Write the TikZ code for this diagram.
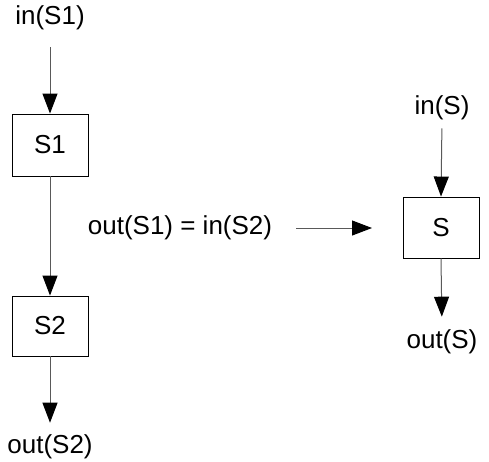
\documentclass[tikz,border=0pt]{standalone}
\usepackage{fontspec}
\setmainfont{Liberation Sans}
\usetikzlibrary{arrows.meta}
\begin{document}
\begin{tikzpicture}[x=1pt,y=-1pt,
  lbl/.style={inner sep=0pt, font=\fontsize{26}{30}\selectfont},
  blk/.style={draw=black, line width=0.9pt, minimum width=76pt, inner sep=0pt, font=\fontsize{26}{30}\selectfont},
  conn/.style={draw=black!65, line width=1pt, -{Triangle[length=20pt,width=15pt,color=black]}}
]
\useasboundingbox (0,0) rectangle (489,461);
% left chain
\node[lbl] (in1) at (50,18) {in(S1)};
\node[blk, minimum height=62pt] (S1) at (50,145) {S1};
\node[blk, minimum height=60pt] (S2) at (50,326) {S2};
\node[lbl] (out2) at (50,447) {out(S2)};
\draw[conn, shorten <=17pt] (in1.south) -- (S1.north);
\draw[conn] (S1.south) -- (S2.north);
\draw[conn, shorten >=12pt] (S2.south) -- (out2.north);
% middle
\node[lbl] (mid) at (180,228) {out(S1) = in(S2)};
\coordinate (tipend) at (372,228);
\draw[conn, shorten <=24pt] (mid.east) -- (tipend);
% right
\node[lbl] (inS) at (442,108) {in(S)};
\node[blk, minimum height=61pt] (S) at (441,227.5) {S};
\node[lbl] (outS) at (442,342) {out(S)};
\draw[conn, shorten <=8pt] (inS.south) -- (S.north);
\draw[conn, shorten >=13pt] (S.south) -- (outS.north);
\end{tikzpicture}
\end{document}
